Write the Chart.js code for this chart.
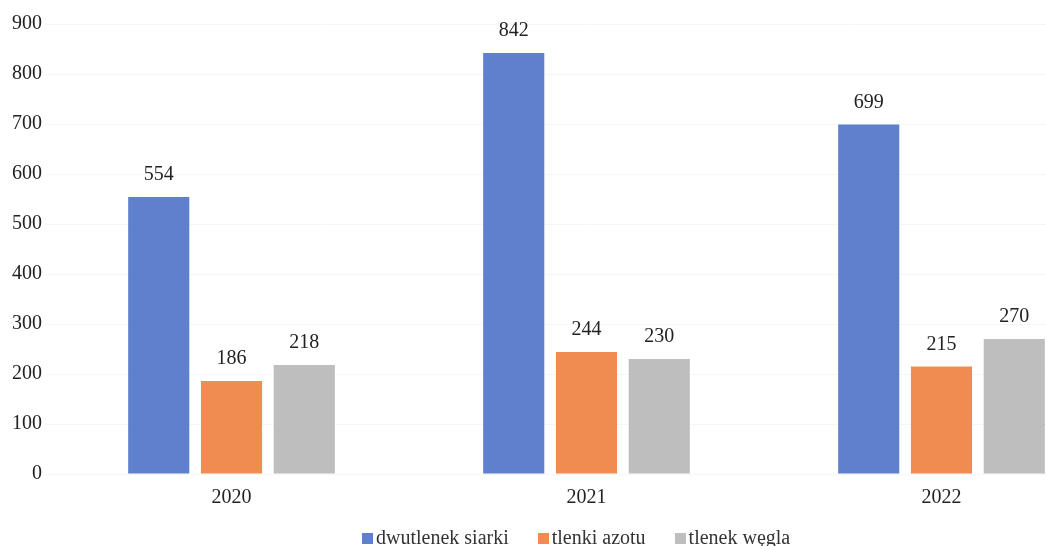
<!DOCTYPE html>
<html>
<head>
<meta charset="utf-8">
<script src="https://cdn.jsdelivr.net/npm/chart.js@4"></script>
<style>
  html, body { margin: 0; padding: 0; background: #fff; overflow: hidden; }
  #wrap { position: absolute; left: 0; top: 0; width: 1130px; height: 546px; }
  #legend {
    position: absolute; left: 362px; top: 527px;
    font-family: "Liberation Serif", serif; font-size: 20px; color: #333;
    display: flex; gap: 29px; white-space: nowrap; line-height: 20px;
  }
  #legend span.box { display: inline-block; width: 11px; height: 11px; margin-right: 3px; }
</style>
</head>
<body>
<div id="wrap"><canvas id="emisjeChart"></canvas></div>
<div id="legend"></div>
<script>
// dane
const years = ['2020', '2021', '2022'];
const seriesNames = ['dwutlenek siarki', 'tlenki azotu', 'tlenek węgla'];
const so2 = [554, 842, 699];
const nox = [186, 244, 215];
const co = [218, 230, 270];
const yTicks = [0, 100, 200, 300, 400, 500, 600, 700, 800, 900];
const colors = ['#5f80cd', '#f08b52', '#bebebe'];

const serif = '"Liberation Serif", "Times New Roman", serif';

// etykiety wartości nad słupkami
const valueLabels = {
    id: 'valueLabels',
    afterDatasetsDraw(chart) {
        const ctx = chart.ctx;
        ctx.save();
        ctx.font = '20px ' + serif;
        ctx.fillStyle = '#222';
        ctx.textAlign = 'center';
        ctx.textBaseline = 'bottom';
        chart.data.datasets.forEach((ds, i) => {
            chart.getDatasetMeta(i).data.forEach((bar, j) => {
                ctx.fillText(ds.data[j], bar.x, bar.y - 12);
            });
        });
        ctx.restore();
    }
};

const datasets = [so2, nox, co].map((values, i) => ({
    label: seriesNames[i],
    data: values,
    backgroundColor: colors[i],
    barPercentage: 0.84,
    categoryPercentage: 0.615
}));

new Chart(document.getElementById('emisjeChart'), {
    type: 'bar',
    data: { labels: years, datasets: datasets },
    options: {
        responsive: true,
        maintainAspectRatio: false,
        animation: false,
        layout: { padding: { top: 24, right: 11, bottom: 32, left: 0 } },
        scales: {
            x: {
                grid: { display: false },
                border: { display: false },
                ticks: { color: '#222', font: { family: serif, size: 20 }, padding: 4 }
            },
            y: {
                min: 0,
                max: 900,
                afterBuildTicks: axis => { axis.ticks = yTicks.map(v => ({ value: v })); },
                afterFit: axis => { axis.width = 54; },
                border: { display: false },
                grid: { color: 'rgba(0,0,0,0.035)' },
                ticks: { color: '#222', font: { family: serif, size: 20 }, padding: 4 }
            }
        },
        plugins: {
            legend: { display: false },
            tooltip: { enabled: false }
        }
    },
    plugins: [valueLabels]
});

// legenda jako html (wykres jest przycięty z prawej strony)
const legend = document.getElementById('legend');
seriesNames.forEach((name, i) => {
    const item = document.createElement('span');
    item.innerHTML = '<span class="box" style="background:' + colors[i] + '"></span>' + name;
    legend.appendChild(item);
});
</script>
</body>
</html>
